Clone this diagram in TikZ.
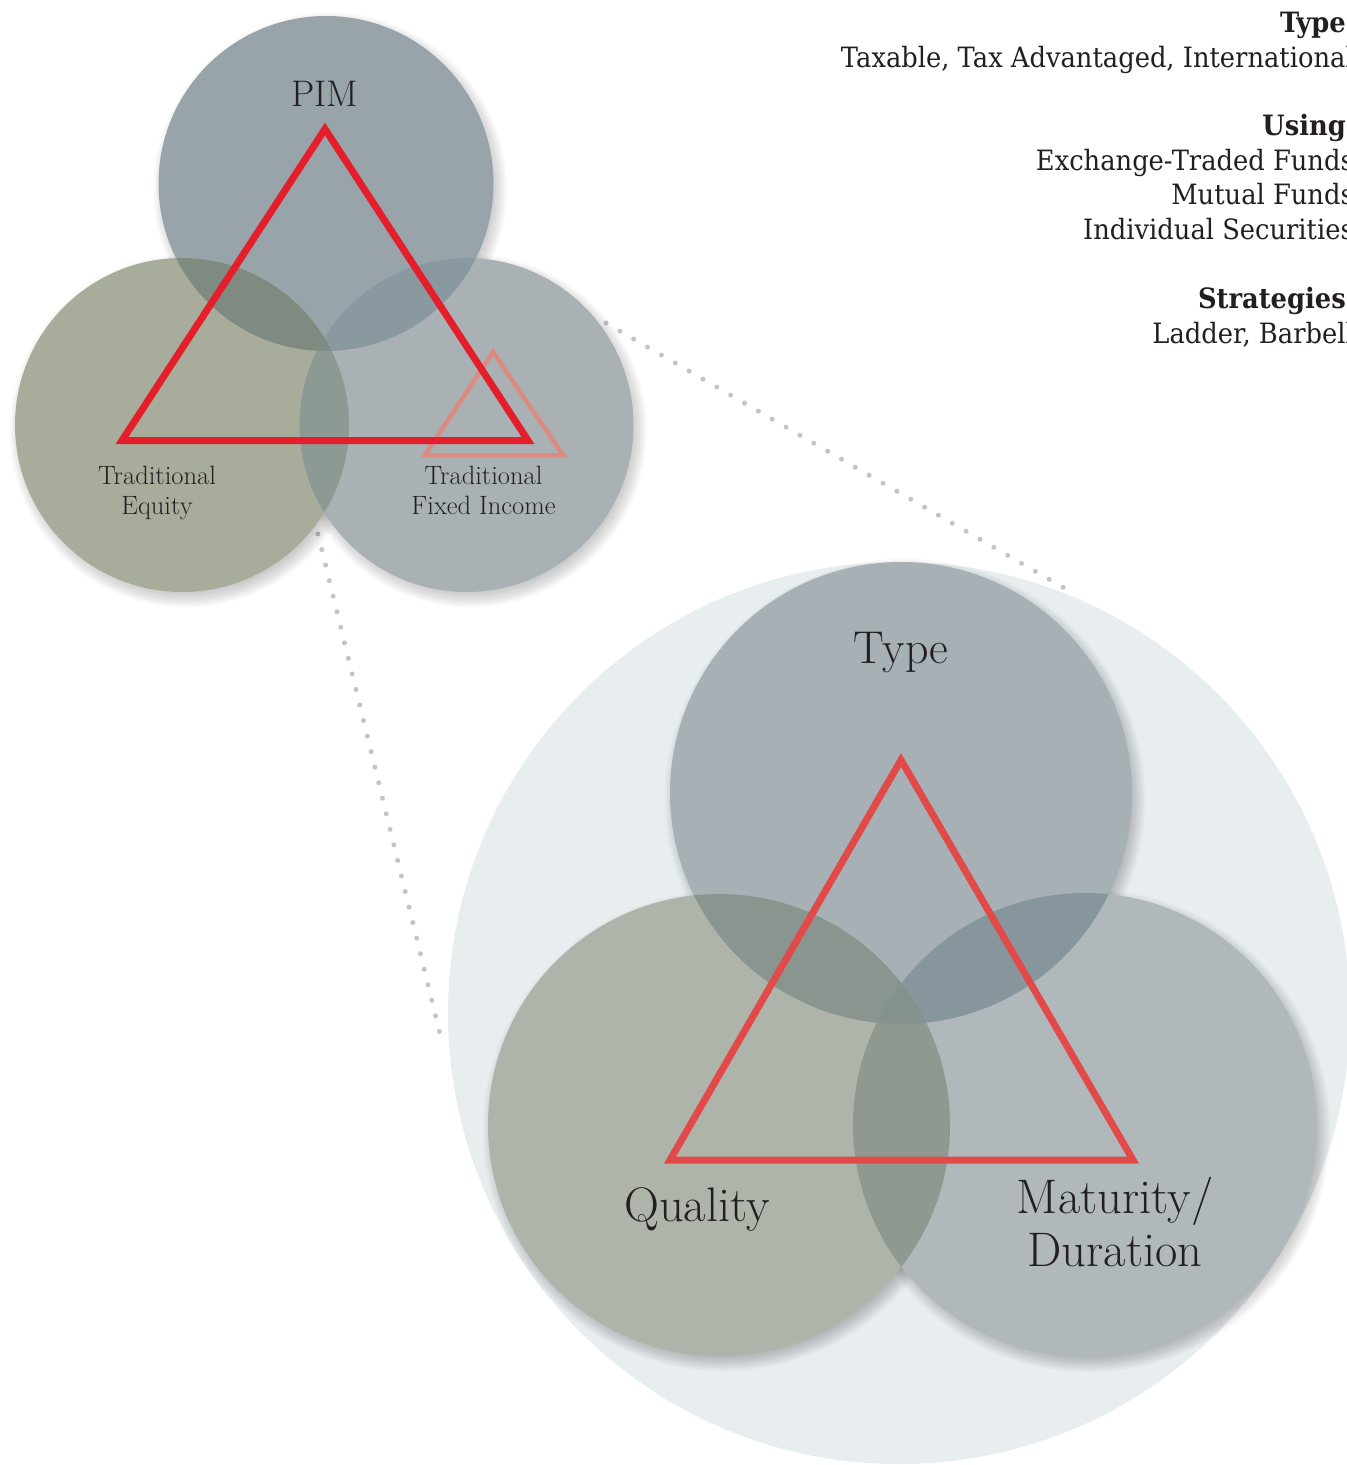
\documentclass[tikz,border=0pt]{standalone}
\usepackage{fontspec}
\newfontfamily\slab[FakeStretch=0.92]{DejaVu Serif}
\definecolor{ink}{HTML}{231F20}
\definecolor{bgc}{HTML}{E8EDEF}
\definecolor{bigT}{HTML}{A6B0B5}
\definecolor{bigQ}{HTML}{AFB4AB}
\definecolor{bigR}{HTML}{B0B8BC}
\definecolor{bigTQ}{HTML}{8A9590}
\definecolor{bigTR}{HTML}{87959C}
\definecolor{bigQR}{HTML}{8F9990}
\definecolor{bigTQR}{HTML}{84918D}
\definecolor{smP}{HTML}{98A4AA}
\definecolor{smE}{HTML}{A8AC9A}
\definecolor{smF}{HTML}{A9B1B5}
\definecolor{smPE}{HTML}{7F8B80}
\definecolor{smPF}{HTML}{8A99A0}
\definecolor{smEF}{HTML}{8D9993}
\definecolor{smPEF}{HTML}{7E8C88}
\definecolor{smRed}{HTML}{E41E2B}
\definecolor{bigRed}{HTML}{E24A4A}
\definecolor{pinkTri}{HTML}{D98C7F}
\definecolor{dotgrey}{HTML}{C4C4C4}
\newcommand\softshadow[2]{%
  \foreach \k in {0,...,11}{\fill[black,fill opacity=0.02] ($(#1)+(4,6)$) circle ({#2-6+\k*1.4 pt});}}
\usetikzlibrary{calc}
\begin{document}
\begin{tikzpicture}[x=1pt,y=-1pt,
  lbl/.style={text=ink,inner sep=0pt,align=center},
  rt/.style={text=ink,inner sep=0pt,font=\slab\fontsize{28}{32}\selectfont},
  dotline/.style={draw=dotgrey,line width=5pt,line cap=round,dash pattern=on 0pt off 16pt},
  tri/.style={line join=miter}]
\useasboundingbox (0,0) rectangle (1347,1465);
\clip (0,0) rectangle (1347,1465);
% ---------- centres ----------
\coordinate (cP) at (326,183.5);
\coordinate (cE) at (182,425);
\coordinate (cF) at (466.5,425);
\coordinate (cBig) at (899,1013);
\coordinate (cT) at (901,793);
\coordinate (cQ) at (719,1125);
\coordinate (cR) at (1085,1125);
% ---------- dotted connectors ----------
\coordinate (d1a) at (606,323);
\coordinate (d1b) at (1066,589);
\coordinate (d2a) at (318,534);
\coordinate (d2b) at (440,1034);
\draw[dotline] (d1a) -- (d1b);
\draw[dotline] (d2a) -- (d2b);
% ---------- big diagram ----------
\fill[bgc] (cBig) circle (451pt);
\softshadow{cT}{231}
\softshadow{cQ}{231}
\softshadow{cR}{232}
\fill[bigT] (cT) circle (231pt);
\fill[bigQ] (cQ) circle (231pt);
\fill[bigR] (cR) circle (232pt);
\begin{scope}\clip (cT) circle (231pt); \fill[bigTQ] (cQ) circle (231pt);\end{scope}
\begin{scope}\clip (cT) circle (231pt); \fill[bigTR] (cR) circle (232pt);\end{scope}
\begin{scope}\clip (cQ) circle (231pt); \fill[bigQR] (cR) circle (232pt);\end{scope}
\begin{scope}\clip (cT) circle (231pt); \clip (cQ) circle (231pt); \fill[bigTQR] (cR) circle (232pt);\end{scope}
\coordinate (bA) at (901,760);
\coordinate (bL) at (670,1160);
\coordinate (bR) at (1133,1160);
\draw[tri,bigRed,line width=7pt] (bA) -- (bL) -- (bR) -- cycle;
\node[lbl,anchor=base,font=\fontsize{46}{53}\selectfont] (lType) at (901,663) {Type};
\node[lbl,anchor=base,font=\fontsize{48.5}{53}\selectfont] (lQual) at (697,1221) {Quality};
\node[lbl,anchor=base,font=\fontsize{48.5}{53}\selectfont] (lMat) at (1115,1266) {Maturity/\\Duration};
% ---------- small diagram ----------
\softshadow{cP}{167.5}
\softshadow{cE}{167}
\softshadow{cF}{167}
\fill[smP] (cP) circle (167.5pt);
\fill[smE] (cE) circle (167pt);
\fill[smF] (cF) circle (167pt);
\begin{scope}\clip (cP) circle (167.5pt); \fill[smPE] (cE) circle (167pt);\end{scope}
\begin{scope}\clip (cP) circle (167.5pt); \fill[smPF] (cF) circle (167pt);\end{scope}
\begin{scope}\clip (cE) circle (167pt); \fill[smEF] (cF) circle (167pt);\end{scope}
\begin{scope}\clip (cP) circle (167.5pt); \clip (cE) circle (167pt); \fill[smPEF] (cF) circle (167pt);\end{scope}
\coordinate (pA) at (493,352);
\coordinate (pL) at (425,455);
\coordinate (pR) at (563,455);
\draw[tri,pinkTri,line width=4.5pt] (pA) -- (pL) -- (pR) -- cycle;
\coordinate (sA) at (325,129);
\coordinate (sL) at (122,440.5);
\coordinate (sR) at (528,440.5);
\draw[tri,smRed,line width=7pt] (sA) -- (sL) -- (sR) -- cycle;
\node[lbl,anchor=base,font=\fontsize{37}{40}\selectfont] (lPIM) at (325,106) {PIM};
\node[lbl,anchor=base,font=\fontsize{26.5}{30}\selectfont] (lEq) at (157,514) {Traditional\\Equity};
\node[lbl,anchor=base,font=\fontsize{26.5}{30}\selectfont] (lFI) at (483.5,514) {Traditional\\Fixed Income};
% ---------- right-hand text ----------
\node[rt,anchor=base east] (h1) at (1346,32) {\bfseries Type};
\node[rt,anchor=base east] (t1) at (1354,67) {Taxable, Tax Advantaged, International};
\node[rt,anchor=base east] (h2) at (1346,135) {\bfseries Using};
\node[rt,anchor=base east] (t2) at (1354,170) {Exchange-Traded Funds};
\node[rt,anchor=base east] (t3) at (1354,204.5) {Mutual Funds};
\node[rt,anchor=base east] (t4) at (1354,239) {Individual Securities};
\node[rt,anchor=base east] (h3) at (1346,308) {\bfseries Strategies};
\node[rt,anchor=base east] (t5) at (1354,343) {Ladder, Barbell};
\end{tikzpicture}
\end{document}
